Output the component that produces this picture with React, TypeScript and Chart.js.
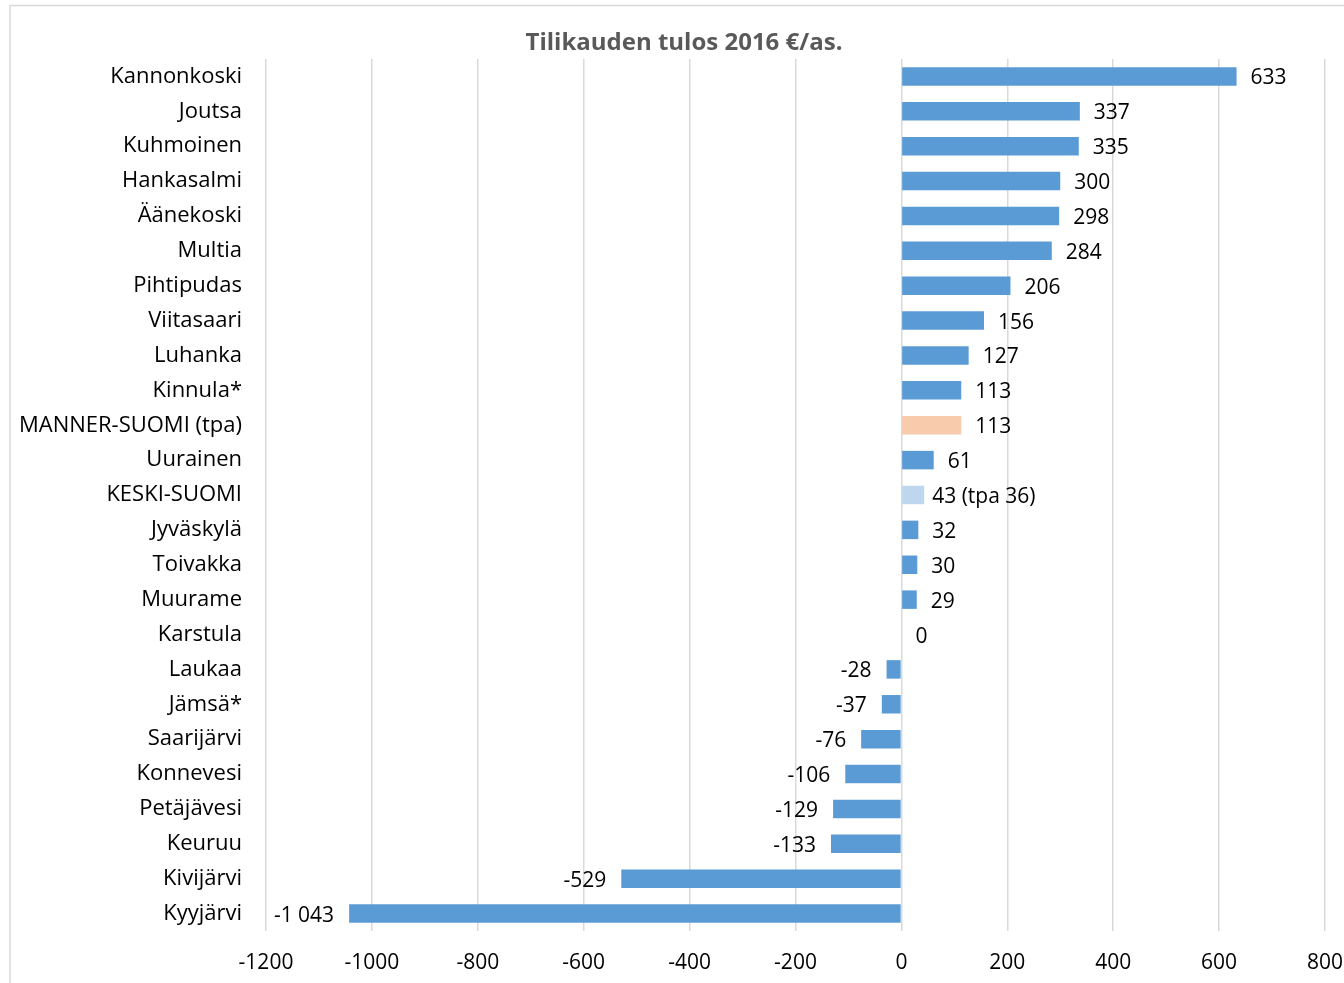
import React, { useEffect, useRef } from "react";
import { Chart, registerables } from "chart.js";

Chart.register(...registerables);

const title = "Tilikauden tulos 2016 €/as.";

const categories = [
  "Kannonkoski", "Joutsa", "Kuhmoinen", "Hankasalmi", "Äänekoski", "Multia",
  "Pihtipudas", "Viitasaari", "Luhanka", "Kinnula*", "MANNER-SUOMI (tpa)",
  "Uurainen", "KESKI-SUOMI", "Jyväskylä", "Toivakka", "Muurame", "Karstula",
  "Laukaa", "Jämsä*", "Saarijärvi", "Konnevesi", "Petäjävesi", "Keuruu",
  "Kivijärvi", "Kyyjärvi",
];

const values = [
  633, 337, 335, 300, 298, 284, 206, 156, 127, 113, 113, 61, 43, 32, 30, 29, 0,
  -28, -37, -76, -106, -129, -133, -529, -1043,
];

const keskiSuomiPrevYear = 36;

const xTicks = [-1200, -1000, -800, -600, -400, -200, 0, 200, 400, 600, 800];

const baseColor = "#5B9BD5";
const mannerColor = "#F8CBAD";
const keskiColor = "#BDD7EE";

const FONT = "'Open Sans', Lato, sans-serif";

function fmt(v: number): string {
  const s = Math.abs(v).toString().replace(/\B(?=(\d{3})+(?!\d))/g, " ");
  return (v < 0 ? "-" : "") + s;
}

export default function App() {
  const ref = useRef<HTMLCanvasElement | null>(null);

  useEffect(() => {
    if (!ref.current) return;
    const colors = categories.map((c) =>
      c === "MANNER-SUOMI (tpa)" ? mannerColor : c === "KESKI-SUOMI" ? keskiColor : baseColor
    );
    const labelTexts = categories.map((c, i) =>
      c === "KESKI-SUOMI" ? `${fmt(values[i])} (tpa ${keskiSuomiPrevYear})` : fmt(values[i])
    );

    const framePlugin = {
      id: "frame",
      beforeDraw(chart: any) {
        const ctx = chart.ctx;
        ctx.save();
        ctx.strokeStyle = "#D9D9D9";
        ctx.lineWidth = 1.5;
        ctx.beginPath();
        ctx.moveTo(10, 2000);
        ctx.lineTo(10, 5.5);
        ctx.lineTo(2000, 5.5);
        ctx.stroke();
        ctx.fillStyle = "#595959";
        ctx.font = `bold 24px ${FONT}`;
        ctx.textAlign = "center";
        ctx.textBaseline = "middle";
        ctx.fillText(title, 684, 43);
        ctx.restore();
      },
    };

    const labelPlugin = {
      id: "barLabels",
      afterDatasetsDraw(chart: any) {
        const ctx = chart.ctx;
        const meta = chart.getDatasetMeta(0);
        ctx.save();
        ctx.fillStyle = "#000000";
        ctx.font = `21px ${FONT}`;
        ctx.textBaseline = "middle";
        meta.data.forEach((bar: any, i: number) => {
          const v = values[i];
          if (v >= 0) {
            ctx.textAlign = "left";
            const gap = categories[i] === "KESKI-SUOMI" ? 8 : 14;
            ctx.fillText(labelTexts[i], bar.x + gap, bar.y + 2);
          } else {
            ctx.textAlign = "right";
            ctx.fillText(labelTexts[i], bar.x - 15, bar.y + 2);
          }
        });
        ctx.restore();
      },
    };

    const chart = new Chart(ref.current, {
      type: "bar",
      data: {
        labels: categories,
        datasets: [
          {
            data: values,
            backgroundColor: colors,
            borderWidth: 0,
            barPercentage: 0.53,
            categoryPercentage: 1,
          },
        ],
      },
      options: {
        indexAxis: "y",
        animation: false,
        responsive: true,
        maintainAspectRatio: false,
        layout: { padding: { top: 59, right: 0, bottom: 0, left: 0 } },
        plugins: {
          legend: { display: false },
          title: { display: false },
          tooltip: { enabled: false },
        },
        scales: {
          x: {
            min: -1200,
            max: 800,
            afterBuildTicks(scale: any) {
              scale.ticks = xTicks.map((v) => ({ value: v }));
            },
            afterFit(scale: any) {
              scale.height = 52;
              scale.paddingRight = 19;
            },
            grid: { color: "#D9D9D9", lineWidth: 1.5, drawTicks: false },
            border: { display: false },
            ticks: {
              padding: 19,
              color: "#000000",
              font: { family: FONT, size: 21 },
              callback: (v: any) => String(v),
              maxRotation: 0,
              autoSkip: false,
            },
          },
          y: {
            afterFit(scale: any) {
              scale.width = 266;
            },
            grid: { display: false, drawTicks: false },
            border: { display: false },
            ticks: {
              padding: 24,
              color: "#000000",
              font: { family: FONT, size: 22 },
              autoSkip: false,
            },
          },
        },
      },
      plugins: [framePlugin, labelPlugin],
    } as any);

    return () => chart.destroy();
  }, []);

  return (
    <div style={{ position: "fixed", left: 0, top: 0, width: 1344, height: 983, background: "#fff" }}>
      <canvas ref={ref} />
    </div>
  );
}
